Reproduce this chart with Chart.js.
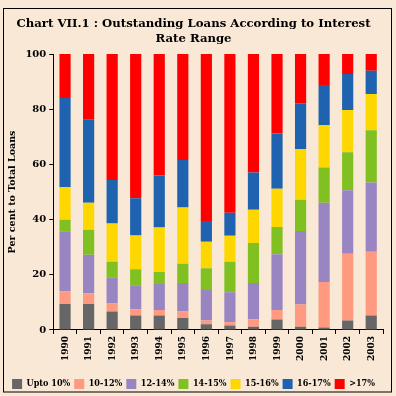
<!DOCTYPE html>
<html><head><meta charset="utf-8">
<script src="https://cdn.jsdelivr.net/npm/chart.js@4"></script>
<style>html,body{margin:0;padding:0;background:#F8E8D5;overflow:hidden}</style>
</head><body>
<canvas id="c" width="396" height="396"></canvas>
<script>
const categories = ['1990','1991','1992','1993','1994','1995','1996','1997','1998','1999','2000','2001','2002','2003'];
const upto10 = [9.4, 9.4, 6.7, 5.2, 5.2, 4.3, 2.1, 1.6, 1.2, 3.8, 1.2, 0.9, 3.4, 5.2];
const r10to12 = [4.6, 3.9, 2.9, 2.3, 2.0, 2.4, 1.3, 1.2, 2.7, 3.4, 8.0, 16.5, 24.2, 23.1];
const r12to14 = [21.8, 14.0, 9.5, 8.7, 9.5, 10.3, 11.1, 10.9, 13.1, 20.2, 26.7, 28.7, 23.0, 25.1];
const r14to15 = [4.1, 9.0, 5.6, 5.8, 4.3, 7.0, 7.9, 11.0, 14.5, 9.9, 11.3, 12.8, 13.8, 19.0];
const r15to16 = [11.8, 9.8, 13.9, 12.2, 16.1, 20.4, 9.6, 9.4, 12.1, 13.9, 18.3, 15.3, 15.3, 13.1];
const r16to17 = [32.4, 30.1, 15.7, 13.5, 18.9, 17.2, 7.5, 8.4, 13.5, 20.0, 16.7, 14.6, 13.1, 8.4];
const above17 = [15.9, 23.8, 45.7, 52.3, 44.0, 38.4, 60.5, 57.5, 42.9, 28.8, 17.8, 11.2, 7.2, 6.1];
const seriesNames = ['Upto 10%', '10-12%', '12-14%', '14-15%', '15-16%', '16-17%', '>17%'];
const seriesColors = ['#666666', '#FF9980', '#9985C2', '#80C020', '#FFD700', '#1F63B0', '#FF0000'];
const yTicks = [0, 20, 40, 60, 80, 100];
const titleLines = ['Chart VII.1 : Outstanding Loans According to Interest', 'Rate Range'];
const yTitle = 'Per cent to Total Loans';

const FF = 'DejaVu Serif';
const FFC = 'DejaVu Serif Condensed';
const BG = '#F8E8D5';
const allSeries = [upto10, r10to12, r12to14, r14to15, r15to16, r16to17, above17];

const bgPlugin = {
  id: 'bg',
  beforeDraw(chart) {
    const ctx = chart.ctx;
    ctx.save();
    ctx.fillStyle = BG;
    ctx.fillRect(0, 0, chart.width, chart.height);
    ctx.strokeStyle = '#000';
    ctx.lineWidth = 1;
    ctx.strokeRect(3.5, 8.5, 388, 383.5);
    ctx.restore();
  }
};

new Chart(document.getElementById('c'), {
  type: 'bar',
  data: {
    labels: categories,
    datasets: allSeries.map((d, i) => ({
      label: seriesNames[i],
      data: d,
      backgroundColor: seriesColors[i],
      borderWidth: 0,
      barPercentage: 0.5,
      categoryPercentage: 0.95
    }))
  },
  options: {
    responsive: false,
    animation: false,
    layout: { padding: { left: 4, right: 13, top: 0, bottom: -3 } },
    plugins: {
      tooltip: { enabled: false },
      title: {
        display: true,
        text: titleLines,
        color: '#000',
        font: { family: FF, size: 11.7, weight: 'bold', lineHeight: 1.24 },
        padding: { top: 17, bottom: 8 }
      },
      legend: {
        position: 'bottom',
        labels: {
          boxWidth: 10, boxHeight: 10, padding: 4,
          color: '#000',
          font: { family: FFC, size: 9, weight: 'bold' }
        }
      }
    },
    scales: {
      x: {
        stacked: true,
        afterFit(scale) { scale.height += 12; },
        border: { display: true, color: '#000', width: 1 },
        grid: { display: true, drawOnChartArea: false, drawTicks: true, tickLength: 4, color: '#000' },
        ticks: { color: '#000', minRotation: 90, maxRotation: 90, padding: 2, font: { family: FFC, size: 10, weight: 'bold' } }
      },
      y: {
        stacked: true,
        min: 0, max: 100,
        afterBuildTicks(scale) { scale.ticks = yTicks.map(v => ({ value: v })); },
        border: { display: true, color: '#000', width: 1 },
        grid: { display: true, drawOnChartArea: false, drawTicks: true, tickLength: 4, color: '#000' },
        ticks: { color: '#000', padding: 3, font: { family: FF, size: 10, weight: 'bold' } },
        title: { display: true, text: yTitle, color: '#000', padding: { top: 3, bottom: 4 }, font: { family: FF, size: 9.5, weight: 'bold' } }
      }
    }
  },
  plugins: [bgPlugin]
});
</script>
</body></html>
